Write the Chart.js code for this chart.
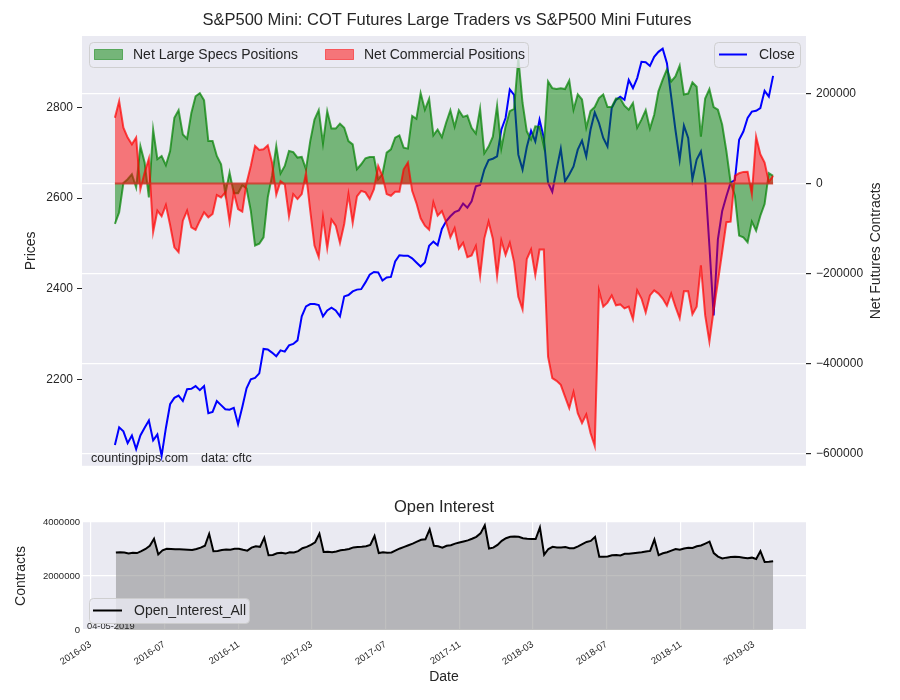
<!DOCTYPE html>
<html>
<head>
<meta charset="utf-8">
<script src="https://cdn.jsdelivr.net/npm/chart.js@4.4.1/dist/chart.umd.min.js"></script>
<style>
  body { margin: 0; background: #fff; }
  #wrap { position: relative; width: 900px; height: 700px; }
  #topChart { position: absolute; left: 0; top: 0; }
  #oiChart { position: absolute; left: 0; top: 480px; }
</style>
</head>
<body>
<div id="wrap">
  <canvas id="topChart" width="900" height="478" style="width:900px;height:478px"></canvas>
  <canvas id="oiChart" width="900" height="220" style="width:900px;height:220px"></canvas>
</div>
<script>
"use strict";

// weekly COT report dates, first one 2016-04-12
const firstReport = '2016-04-12';
const reportCount = 156;

const closePrice = [
  2055, 2094, 2085, 2059, 2076, 2046, 2076, 2093, 2109, 2065, 2078, 2031, 2092, 2145, 2159, 2164, 2152, 2178, 2179, 2185,
  2176, 2185, 2125, 2128, 2152, 2143, 2134, 2133, 2137, 2101, 2139, 2180, 2200, 2203, 2213, 2267, 2266, 2259, 2251, 2264,
  2261, 2275, 2278, 2286, 2339, 2361, 2366, 2366, 2364, 2339, 2352, 2358, 2352, 2339, 2383, 2386, 2394, 2398, 2399, 2414,
  2431, 2437, 2436, 2418, 2425, 2426, 2460, 2474, 2473, 2473, 2467, 2458, 2449, 2458, 2495, 2504, 2496, 2532, 2549,
  2560, 2569, 2573, 2588, 2579, 2593, 2626, 2629, 2663, 2684, 2687, 2692, 2751, 2777, 2840, 2828, 2696, 2663, 2713, 2749,
  2725, 2773, 2733, 2634, 2614, 2663, 2709, 2637, 2652, 2670, 2707, 2727, 2692, 2751, 2789, 2766, 2733, 2714,
  2799, 2817, 2824, 2817, 2861, 2843, 2865, 2901, 2900, 2892, 2912, 2923, 2930, 2898, 2824, 2751, 2685, 2760, 2733, 2641,
  2685, 2703, 2641, 2495, 2341, 2509, 2571, 2604, 2634, 2640, 2729, 2747, 2777, 2791, 2793, 2799, 2837, 2824, 2870
];

const largeSpecs = [
  -90000, -64000, 1000, 9500, 20600, -8900, 83000, 46500, -31000, 120000, 54000, 61000, 40500, 72000, 146000, 163000,
  109000, 99600, 157000, 194000, 201000, 185000, 94300, 94300, 61100, 42700, -23700, 24300, -21500, -21500, -3800,
  -11100, -60600, -138000, -134000, -120000, -31000, 16800, 83200, 22000,
  39000, 72200, 69900, 57500, 58900, 31600, 94300, 142000, 163000, 89200, 161000, 122000, 122000, 133000, 124000,
  94300, 87000, 31600, 42700, 56000, 58900, 58900, 9500, 20600, 68600, 75900, 102000, 107000, 79700, 77500, 150000,
  144000, 201000, 164000, 188000, 107000, 120000, 103000, 135000,
  163000, 126000, 163000, 148000, 151000, 124000, 111000, 166000, 67000, 81900, 104000, 173000, 78100, 127000, 161000,
  166000, 279000, 179000, 116000, 98000, 127000, 126000, 83300, 227000, 212000, 210000, 212000, 210000, 229000, 164000,
  198000, 187000, 124000, 161000, 170000, 190000, 198000, 170000,
  170000, 189000, 189000, 173000, 164000, 179000, 124000, 142000, 163000, 122000, 153000, 205000, 231000, 254000,
  227000, 238000, 262000, 198000, 200000, 225000, 215000, 104000, 189000, 210000, 170000, 164000, 131000, 72200, 2200,
  -27400, -116000, -120000, -131000, -85000, -105000, -71700, -45800, 22800, 16800
];

const commercial = [
  146000, 183000, 124000, 102000, 87000, 102000, -12600, 24300, 55300, -108000, -60600, -73000, -48000, -92300,
  -142000, -153000, -82800, -60600, -97400, -103000, -82800, -64200, -75200, -67900, -25900, -31000, -19900, -85000,
  -19900, -56900, -62800, 700, 39000, 83200, 74400, 75900, 84800, 46500, -25000, 5000,
  -2000, -73000, -23700, -34700, -23700, 22800, -60600, -138000, -164000, -75200, -144000, -80600, -93800, -132000,
  -90100, -23700, -87900, -28800, -16400, -19900, -34700, -12600, 39000, 16800, -23700, -27400, -18600, -18600, 31600,
  46500, -16400, -43600, -77500, -93800, -103000, -42000, -71700, -61700, -86300,
  -120000, -99600, -145000, -132000, -164000, -160000, -139000, -206000, -122000, -85000, -123000, -206000, -127000,
  -159000, -132000, -175000, -252000, -280000, -168000, -147000, -204000, -147000, -147000, -385000, -433000, -439000,
  -448000, -474000, -500000, -464000, -511000, -533000, -514000, -555000, -584000, -238000, -274000, -265000,
  -249000, -271000, -269000, -278000, -274000, -302000, -238000, -256000, -287000, -249000, -238000, -245000, -256000,
  -272000, -245000, -274000, -300000, -240000, -240000, -291000, -274000, -182000, -293000, -352000, -282000, -219000,
  -153000, -86300, -85000, 16800, 22800, 25700, 26000, -23700, 104000, 64800, 46500, 3500, 16800
];

const openInterest = [
  2870000, 2880000, 2870000, 2830000, 2860000, 2850000, 2920000, 3000000, 3120000, 3380000, 2800000, 2950000, 3010000,
  3000000, 2990000, 2990000, 2980000, 2970000, 2960000, 3000000, 3050000, 3120000, 3560000, 2920000, 2930000, 2960000,
  2980000, 2970000, 3010000, 3010000, 2970000, 2940000, 3050000, 3100000, 3080000, 3420000, 2770000, 2780000, 2840000,
  2860000,
  2830000, 2880000, 2870000, 2920000, 3030000, 3080000, 3150000, 3250000, 3570000, 2890000, 2900000, 2880000, 2910000,
  2950000, 2970000, 3000000, 3060000, 3070000, 3080000, 3100000, 3150000, 3480000, 2850000, 2880000, 2860000, 2870000,
  2950000, 3020000, 3080000, 3140000, 3200000, 3270000, 3340000, 3360000, 3730000, 3120000, 3100000, 3050000, 3120000,
  3140000, 3200000, 3240000, 3280000, 3320000, 3380000, 3450000, 3580000, 3880000, 3020000, 3050000, 3150000, 3300000,
  3400000, 3450000, 3460000, 3450000, 3400000, 3380000, 3370000, 3370000, 3800000, 2790000, 3000000, 3080000, 3060000,
  3060000, 3070000, 3030000, 3030000, 3100000, 3180000, 3260000, 3300000, 3450000, 2710000, 2710000, 2720000,
  2770000, 2780000, 2760000, 2820000, 2820000, 2840000, 2860000, 2880000, 2910000, 2930000, 3350000, 2770000, 2840000,
  2880000, 2940000, 3000000, 2970000, 3020000, 3050000, 3040000, 3100000, 3130000, 3200000, 3270000, 2850000, 2720000,
  2650000, 2680000, 2700000, 2710000, 2700000, 2680000, 2660000, 2680000, 2630000, 2920000, 2520000, 2530000, 2550000
];

const priceTicks = [2200, 2400, 2600, 2800];
const netTicks = [-600000, -400000, -200000, 0, 200000];
const oiTicks = [0, 2000000, 4000000];
const dateTickLabels = ['2016-03', '2016-07', '2016-11', '2017-03', '2017-07', '2017-11', '2018-03', '2018-07', '2018-11', '2019-03'];

const FONT = '"Liberation Sans", Arial, sans-serif';
const TEXT = '#262626';
const DAY = 86400000;

function dayNum(s) {
  const p = s.split('-').map(Number);
  return Date.UTC(p[0], p[1] - 1, p[2] || 1) / DAY;
}

const reportDays = [];
for (let i = 0; i < reportCount; i++) reportDays.push(dayNum(firstReport) + 7 * i);
const span = reportDays[reportDays.length - 1] - reportDays[0];
const xMin = reportDays[0] - span * 0.05;
const xMax = reportDays[reportDays.length - 1] + span * 0.05;
const dateTickDays = dateTickLabels.map(dayNum);

function pts(values) {
  return values.map((v, i) => ({ x: reportDays[i], y: v }));
}

function plain(v) {
  return v < 0 ? '\u2212' + Math.abs(v) : String(v);
}

function legendBox(ctx, x, y, w, h) {
  const r = 4;
  ctx.save();
  ctx.beginPath();
  ctx.moveTo(x + r, y);
  ctx.arcTo(x + w, y, x + w, y + h, r);
  ctx.arcTo(x + w, y + h, x, y + h, r);
  ctx.arcTo(x, y + h, x, y, r);
  ctx.arcTo(x, y, x + w, y, r);
  ctx.closePath();
  ctx.fillStyle = 'rgba(234,234,242,0.8)';
  ctx.fill();
  ctx.strokeStyle = 'rgba(204,204,204,0.9)';
  ctx.lineWidth = 1;
  ctx.stroke();
  ctx.restore();
}

function text(ctx, str, x, y, size, align, rot) {
  ctx.save();
  ctx.font = size + 'px ' + FONT;
  ctx.fillStyle = TEXT;
  ctx.textAlign = align || 'left';
  ctx.textBaseline = 'middle';
  ctx.translate(x, y);
  if (rot) ctx.rotate(rot);
  ctx.fillText(str, 0, 0);
  ctx.restore();
}

const plotBackground = {
  id: 'plotBackground',
  beforeDraw(chart) {
    const a = chart.chartArea;
    chart.ctx.save();
    chart.ctx.fillStyle = '#EAEAF2';
    chart.ctx.fillRect(a.left, a.top, a.right - a.left, a.bottom - a.top);
    chart.ctx.restore();
  }
};

const topDecor = {
  id: 'topDecor',
  afterDatasetsDraw(chart) {
    const ctx = chart.ctx;
    const x = chart.scales.x, yN = chart.scales.yN;
    ctx.save();
    ctx.strokeStyle = 'rgba(205,55,40,0.85)';
    ctx.lineWidth = 2;
    ctx.beginPath();
    ctx.moveTo(x.getPixelForValue(reportDays[0]), yN.getPixelForValue(0));
    ctx.lineTo(x.getPixelForValue(reportDays[reportCount - 1]), yN.getPixelForValue(0));
    ctx.stroke();
    ctx.restore();
  },
  afterDraw(chart) {
    const ctx = chart.ctx;
    const a = chart.chartArea;
    const midY = (a.top + a.bottom) / 2;
    text(ctx, 'S&P500 Mini: COT Futures Large Traders vs S&P500 Mini Futures', 447, 20, 16.5, 'center');
    text(ctx, 'Prices', 31, midY, 14, 'center', -Math.PI / 2);
    text(ctx, 'Net Futures Contracts', 876, midY, 14, 'center', -Math.PI / 2);
    text(ctx, 'countingpips.com', 91, 459, 12.5, 'left');
    text(ctx, 'data: cftc', 201, 459, 12.5, 'left');

    legendBox(ctx, 89.5, 42.5, 439, 25);
    ctx.save();
    ctx.fillStyle = 'rgba(0,128,0,0.5)';
    ctx.strokeStyle = 'rgba(0,128,0,0.5)';
    ctx.fillRect(94.5, 49.5, 28, 10);
    ctx.strokeRect(94.5, 49.5, 28, 10);
    ctx.fillStyle = 'rgba(255,0,0,0.5)';
    ctx.strokeStyle = 'rgba(255,0,0,0.5)';
    ctx.fillRect(325.5, 49.5, 28, 10);
    ctx.strokeRect(325.5, 49.5, 28, 10);
    ctx.restore();
    text(ctx, 'Net Large Specs Positions', 133, 55, 14, 'left');
    text(ctx, 'Net Commercial Positions', 364, 55, 14, 'left');

    legendBox(ctx, 714.5, 42.5, 86, 25);
    ctx.save();
    ctx.strokeStyle = '#0000ff';
    ctx.lineWidth = 2;
    ctx.beginPath();
    ctx.moveTo(719, 54.5);
    ctx.lineTo(747, 54.5);
    ctx.stroke();
    ctx.restore();
    text(ctx, 'Close', 759, 55, 14, 'left');
  }
};

const tickFont = { family: FONT, size: 12 };

new Chart(document.getElementById('topChart'), {
  type: 'line',
  data: {
    datasets: [
      {
        label: 'Close',
        data: pts(closePrice),
        yAxisID: 'yP',
        borderColor: '#0000ff',
        borderWidth: 2,
        pointRadius: 0,
        fill: false,
        order: 3
      },
      {
        label: 'Net Large Specs Positions',
        data: pts(largeSpecs),
        yAxisID: 'yN',
        borderColor: 'rgba(0,128,0,0.7)',
        backgroundColor: 'rgba(0,128,0,0.5)',
        borderWidth: 2,
        pointRadius: 0,
        fill: 'origin',
        order: 2
      },
      {
        label: 'Net Commercial Positions',
        data: pts(commercial),
        yAxisID: 'yN',
        borderColor: 'rgba(255,0,0,0.7)',
        backgroundColor: 'rgba(255,0,0,0.5)',
        borderWidth: 2,
        pointRadius: 0,
        fill: 'origin',
        order: 1
      }
    ]
  },
  options: {
    responsive: false,
    animation: false,
    devicePixelRatio: 1,
    layout: { padding: { top: 36, bottom: 10, left: 0, right: 0 } },
    plugins: { legend: { display: false }, tooltip: { enabled: false } },
    scales: {
      x: { type: 'linear', display: false, min: xMin, max: xMax },
      yP: {
        position: 'left',
        min: 2009,
        max: 2958,
        afterBuildTicks: s => { s.ticks = priceTicks.map(v => ({ value: v })); },
        afterFit: s => { s.width = 82; },
        grid: { drawOnChartArea: false, tickLength: 5, tickColor: TEXT },
        border: { display: false },
        ticks: { font: tickFont, color: TEXT, padding: 4, callback: v => plain(v) }
      },
      yN: {
        position: 'right',
        min: -628000,
        max: 328000,
        afterBuildTicks: s => { s.ticks = netTicks.map(v => ({ value: v })); },
        afterFit: s => { s.width = 94; },
        grid: { color: '#ffffff', lineWidth: 1.2, tickLength: 5, tickColor: TEXT },
        border: { display: false },
        ticks: { font: tickFont, color: TEXT, padding: 5, callback: v => plain(v) }
      }
    }
  },
  plugins: [plotBackground, topDecor]
});

const oiDecor = {
  id: 'oiDecor',
  afterDraw(chart) {
    const ctx = chart.ctx;
    const a = chart.chartArea;
    text(ctx, 'Open Interest', 444, 27, 16.5, 'center');
    text(ctx, 'Contracts', 21, (a.top + a.bottom) / 2, 14, 'center', -Math.PI / 2);
    text(ctx, 'Date', 444, 197, 14, 'center');
    text(ctx, '04-05-2019', 87, 146, 9.3, 'left');
    legendBox(ctx, 89.5, 118.5, 160, 25);
    ctx.save();
    ctx.strokeStyle = '#000';
    ctx.lineWidth = 2;
    ctx.beginPath();
    ctx.moveTo(93, 130.5);
    ctx.lineTo(122, 130.5);
    ctx.stroke();
    ctx.restore();
    text(ctx, 'Open_Interest_All', 134, 131, 14, 'left');
  }
};

new Chart(document.getElementById('oiChart'), {
  type: 'line',
  data: {
    datasets: [{
      label: 'Open_Interest_All',
      data: pts(openInterest),
      borderColor: '#000000',
      borderWidth: 2,
      backgroundColor: 'rgba(128,128,128,0.5)',
      pointRadius: 0,
      fill: 'origin'
    }]
  },
  options: {
    responsive: false,
    animation: false,
    devicePixelRatio: 1,
    layout: { padding: { top: 42, right: 94, left: 0, bottom: 0 } },
    plugins: { legend: { display: false }, tooltip: { enabled: false } },
    scales: {
      x: {
        type: 'linear',
        min: xMin,
        max: xMax,
        afterBuildTicks: s => { s.ticks = dateTickDays.map(v => ({ value: v })); },
        afterFit: s => { s.height = 70; },
        grid: { color: '#ffffff', lineWidth: 1.2, drawTicks: false },
        border: { display: false },
        ticks: {
          autoSkip: false,
          minRotation: 33,
          maxRotation: 33,
          padding: 9,
          font: { family: FONT, size: 9.5 },
          color: TEXT,
          callback: (v, i) => dateTickLabels[i]
        }
      },
      y: {
        min: 0,
        max: 4000000,
        afterBuildTicks: s => { s.ticks = oiTicks.map(v => ({ value: v })); },
        afterFit: s => { s.width = 83; },
        grid: { color: '#ffffff', lineWidth: 1.2, drawTicks: false },
        border: { display: false },
        ticks: { font: { family: FONT, size: 9.5 }, color: TEXT, padding: 3, callback: v => plain(v) }
      }
    }
  },
  plugins: [plotBackground, oiDecor]
});
</script>
</body>
</html>
